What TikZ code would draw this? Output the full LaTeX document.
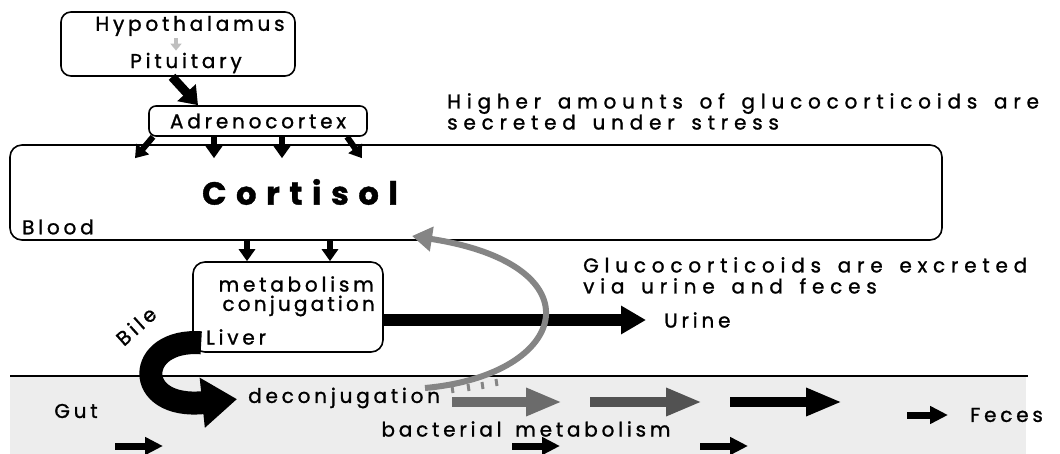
\documentclass[tikz,border=0pt]{standalone}
\usepackage{fontspec}
\setmainfont{Poppins}[LetterSpace=19, WordSpace=1.5, FakeBold=1.2]
\usetikzlibrary{arrows.meta,positioning}

\tikzset{
  txt/.style={font=\fontsize{20}{21}\selectfont, inner sep=0pt},
  wide/.style={font=\fontsize{20}{21}\selectfont\addfontfeature{LetterSpace=29}},
  box/.style={draw, line width=1.6pt, rounded corners=10pt},
  fat/.style={line width=9pt, -{Triangle[length=17pt,width=24pt]}},
  thin fat/.style={line width=6pt, -{Triangle[length=12pt,width=16pt]}},
  flow/.style={line width=10pt, -{Triangle[length=36pt,width=26pt]}},
  small flow/.style={line width=7pt, -{Triangle[length=18pt,width=17pt]}},
}

\begin{document}
\begin{tikzpicture}[x=1pt,y=-1pt]
  \useasboundingbox (0,0) rectangle (1060,454);

  % gut
  \fill[black!7] (10,376) rectangle (1026,454);
  \draw[line width=2.5pt] (10,376) -- (1028,376);
  \node[txt] (gut) at (76,411) {Gut};

  % hypothalamus / pituitary
  \node[box, minimum width=234pt, minimum height=64pt] (hp) at (178,44) {};
  \node[txt] (hyp) at (190,26) {Hypothalamus};
  \node[txt] (pit) at (186,63) {Pituitary};
  \coordinate (hpx) at (176,0);
  \draw[black!25, line width=4.5pt, -{Triangle[length=7pt,width=11pt]}]
    ([yshift=-2pt]hyp.south -| hpx) -- ([yshift=2pt]pit.north -| hpx);

  \node[box, txt, rounded corners=7pt, minimum width=218pt, minimum height=30pt]
    (adr) at (258,121) {Adrenocortex};
  \draw[fat] (hp.south -| 172,0) -- (adr.north -| 198,0);

  % blood
  \node[box, rounded corners=12pt, minimum width=932pt, minimum height=95pt]
    (blood) at (476,192.5) {};
  \node[txt, font=\fontsize{32}{34}\selectfont\bfseries\addfontfeature{LetterSpace=30}]
    (cort) at (300,192) {Cortisol};
  \node[txt, anchor=west] (bl) at (22,227) {Blood};
  \foreach \xa/\xb in {153/135, 214/214, 282/282, 347/362}
    \draw[thin fat] (adr.south -| \xa,0) -- ([yshift=-14pt]blood.north -| \xb,0);

  \node[txt, wide, anchor=north west, align=left] (stress) at (447,93)
    {Higher amounts of glucocorticoids are\\secreted under stress};

  % liver
  \node[box, rounded corners=12pt, minimum width=190pt, minimum height=90pt]
    (liver) at (288,307) {};
  \node[txt, anchor=east] (met) at (374,284) {metabolism};
  \node[txt, anchor=east, font=\fontsize{20}{21}\selectfont\addfontfeature{LetterSpace=16}]
    (conj) at (375,306) {conjugation};
  \node[txt, anchor=west] (liv) at (206,337) {Liver};
  \foreach \xa in {247,330}
    \draw[thin fat] (blood.south -| \xa,0) -- (liver.north -| \xa,0);

  \node[txt, wide, anchor=north west, align=left] (excr) at (583,257)
    {Glucocorticoids are excreted\\via urine and feces};
  \node[txt, anchor=west] (urine) at (664,320) {Urine};
  \draw[line width=11pt, -{Triangle[length=25pt,width=27pt]}, shorten >=18pt]
    (liver.east |- urine) -- (urine.west);

  % bile
  \node[txt, rotate=42] (bile) at (136,326) {Bile};
  \node[txt, anchor=west] (decon) at (248,398) {deconjugation};
  \draw[line width=23pt, -{Triangle[length=35pt,width=48pt]}, shorten >=11pt]
    ([shift={(9,-10)}]liver.south west) .. controls (135,338) and (132,410) .. (decon.west);

  % reabsorption
  \coordinate (recyc) at (425,388);
  \coordinate (back) at (412,236);
  \draw[black!48, line width=6pt, -{Triangle[length=20pt,width=24pt]}]
    (recyc) .. controls (570,375) and (600,265) .. (back);
  \foreach \xa/\ya in {452/386, 468/384, 482/382, 496/379}
    \draw[black!48, line width=3pt] (\xa,\ya) -- ++(1,7);

  % gut flow
  \node[txt] (bact) at (526,429) {bacterial metabolism};
  \draw[flow, black!58] (452,402) -- (562,402);
  \draw[flow, black!68] (590,402) -- (702,402);
  \draw[flow] (730,402) -- (842,402);
  \foreach \xa in {115,512,700}
    \draw[small flow] (\xa,446) -- ++(48,0);
  \node[txt, anchor=west] (feces) at (970,415) {Feces};
  \draw[small flow, shorten >=22pt] (907,415) -- (feces.west);
\end{tikzpicture}
\end{document}
